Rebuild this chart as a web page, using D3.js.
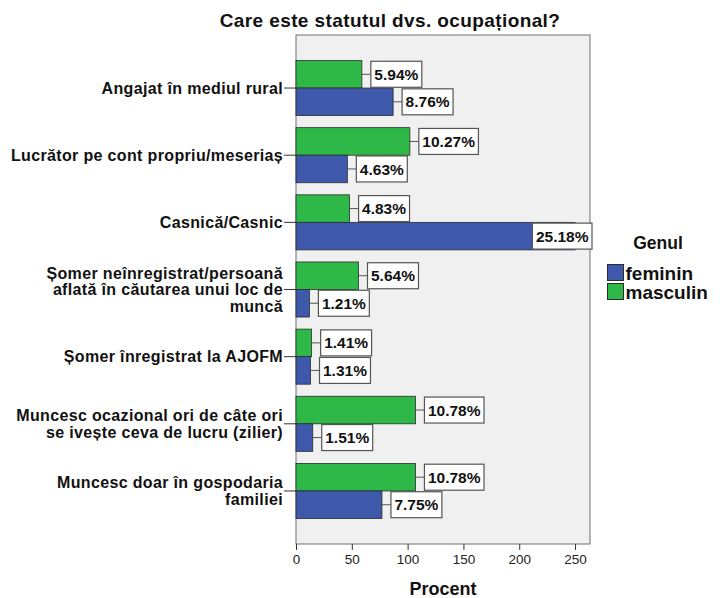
<!DOCTYPE html>
<html>
<head>
<meta charset="utf-8">
<script src="https://cdn.jsdelivr.net/npm/d3@7"></script>
<style>
  body { margin: 0; background: #fff; }
  svg { font-family: Arial, "Liberation Sans", sans-serif; }
</style>
</head>
<body>
<div id="chart"></div>
<script>
(function () {
  'use strict';

  const categories = [
    ['Angajat în mediul rural'],
    ['Lucrător pe cont propriu/meseriaș'],
    ['Casnică/Casnic'],
    ['Șomer neînregistrat/persoană', 'aflată în căutarea unui loc de', 'muncă'],
    ['Șomer înregistrat la AJOFM'],
    ['Muncesc ocazional ori de câte ori', 'se ivește ceva de lucru (zilier)'],
    ['Muncesc doar în gospodaria', 'familiei']
  ];
  const series = ['masculin', 'feminin'];
  const legendOrder = ['feminin', 'masculin'];
  const femininCount = [87, 46, 250, 12, 13, 15, 77];
  const masculinCount = [59, 102, 48, 56, 14, 107, 107];
  const femininPct = ['8.76%', '4.63%', '25.18%', '1.21%', '1.31%', '1.51%', '7.75%'];
  const masculinPct = ['5.94%', '10.27%', '4.83%', '5.64%', '1.41%', '10.78%', '10.78%'];
  const xTicks = [0, 50, 100, 150, 200, 250];

  const colors = { feminin: '#3e58ac', masculin: '#2eb848' };

  const W = 720, H = 598;
  const plot = { left: 296, right: 590, top: 35, bottom: 544 };

  const svg = d3.select('#chart').append('svg')
    .attr('width', W).attr('height', H);

  const x = d3.scaleLinear().domain([0, 263.4]).range([plot.left, plot.right]);
  const y = d3.scaleBand().domain(d3.range(categories.length))
    .range([plot.top, plot.bottom]).paddingInner(0.18).paddingOuter(0.38);
  const ySub = d3.scaleBand().domain(series).range([0, y.bandwidth()]);

  // title
  svg.append('text')
    .attr('x', 390).attr('y', 27)
    .attr('text-anchor', 'middle')
    .attr('font-size', 19).attr('font-weight', 'bold').attr('fill', '#111')
    .attr('letter-spacing', 0.4)
    .text('Care este statutul dvs. ocupațional?');

  // plot area
  svg.append('rect')
    .attr('x', plot.left).attr('y', plot.top)
    .attr('width', plot.right - plot.left).attr('height', plot.bottom - plot.top)
    .attr('fill', '#f0f0f0').attr('stroke', '#6e6e6e').attr('stroke-width', 1);

  // x axis
  const xAxis = svg.append('g')
    .attr('transform', `translate(0,${plot.bottom})`)
    .call(d3.axisBottom(x).tickValues(xTicks).tickSize(6).tickPadding(4));
  xAxis.select('.domain').remove();
  xAxis.selectAll('.tick line').attr('stroke', '#333');
  xAxis.selectAll('text').attr('font-size', 13.5).attr('fill', '#222')
    .attr('font-family', 'Arial, "Liberation Sans", sans-serif');

  svg.append('text')
    .attr('x', 443).attr('y', 595)
    .attr('text-anchor', 'middle')
    .attr('font-size', 18).attr('font-weight', 'bold').attr('fill', '#111')
    .text('Procent');

  // category labels
  const lineH = 16.5;
  categories.forEach((lines, i) => {
    const cy = y(i) + y.bandwidth() / 2;
    svg.append('line')
      .attr('x1', plot.left - 12).attr('x2', plot.left)
      .attr('y1', cy).attr('y2', cy)
      .attr('stroke', '#333');
    const t = svg.append('text')
      .attr('text-anchor', 'end')
      .attr('font-size', 16).attr('font-weight', 'bold').attr('fill', '#111')
      .attr('letter-spacing', 0.35);
    const y0 = cy - (lines.length - 1) * lineH / 2;
    lines.forEach((ln, j) => {
      t.append('tspan')
        .attr('x', plot.left - 13)
        .attr('y', y0 + j * lineH)
        .attr('dy', '0.35em')
        .text(ln);
    });
  });

  // bars
  const rows = [];
  categories.forEach((c, i) => {
    rows.push({ i, s: 'masculin', v: masculinCount[i], p: masculinPct[i] });
    rows.push({ i, s: 'feminin', v: femininCount[i], p: femininPct[i] });
  });

  svg.append('g').selectAll('rect')
    .data(rows).enter().append('rect')
    .attr('x', x(0))
    .attr('y', (d) => y(d.i) + ySub(d.s))
    .attr('width', (d) => x(d.v) - x(0))
    .attr('height', ySub.bandwidth())
    .attr('fill', (d) => colors[d.s])
    .attr('stroke', '#2b2b2b').attr('stroke-width', 0.8);

  // value labels
  const lab = svg.append('g');
  rows.forEach((d) => {
    const cy = y(d.i) + ySub(d.s) + ySub.bandwidth() / 2;
    const end = x(d.v);
    const g = lab.append('g');
    const txt = g.append('text')
      .attr('font-size', 15.5).attr('font-weight', 'bold').attr('fill', '#111')
      .attr('dy', '0.36em')
      .text(d.p);
    const tw = txt.node().getComputedTextLength();
    const bw = tw + 7, bh = 26;
    let bx = end + 9;
    if (bx + bw > plot.right + 2) bx = plot.right + 2 - bw;
    if (bx > end) {
      g.insert('line', 'text')
        .attr('x1', end).attr('x2', bx)
        .attr('y1', cy).attr('y2', cy)
        .attr('stroke', '#555');
    }
    g.insert('rect', 'text')
      .attr('x', bx).attr('y', cy - bh / 2)
      .attr('width', bw).attr('height', bh)
      .attr('fill', '#fff').attr('stroke', '#555').attr('stroke-width', 1.2);
    txt.attr('x', bx + 3.5).attr('y', cy);
  });

  // legend
  svg.append('text')
    .attr('x', 658).attr('y', 249)
    .attr('text-anchor', 'middle')
    .attr('font-size', 17.5).attr('font-weight', 'bold').attr('fill', '#111')
    .text('Genul');
  legendOrder.forEach((s, k) => {
    const ly = 264 + k * 19;
    svg.append('rect')
      .attr('x', 607.5).attr('y', ly + 0.5)
      .attr('width', 16).attr('height', 16)
      .attr('fill', colors[s]).attr('stroke', '#2b2b2b');
    svg.append('text')
      .attr('x', 625.5).attr('y', ly + 9).attr('dy', '0.35em')
      .attr('font-size', 19).attr('font-weight', 'bold').attr('fill', '#111')
      .text(s);
  });
})();
</script>
</body>
</html>
